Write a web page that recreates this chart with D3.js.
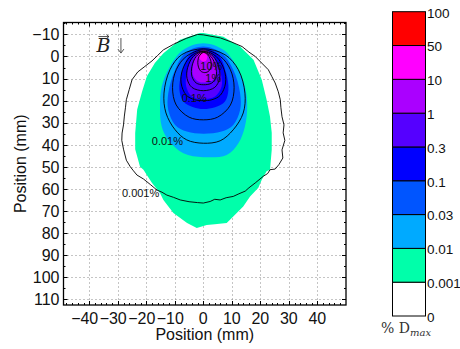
<!DOCTYPE html>
<html>
<head>
<meta charset="utf-8">
<script src="https://cdn.jsdelivr.net/npm/d3@7"></script>
<style>
  html, body { margin: 0; padding: 0; background: #fff; }
  svg { display: block; font-family: "Liberation Sans", Arial, sans-serif; }
</style>
</head>
<body>
<svg id="chart" width="460" height="349"></svg>
<script>
// ticks
const xTicks = [-40, -30, -20, -10, 0, 10, 20, 30, 40];
const yTicks = [-10, 0, 10, 20, 30, 40, 50, 60, 70, 80, 90, 100, 110];

// colour levels (% of Dmax), bottom to top of the colorbar
const levelLabels = ["0", "0.001", "0.01", "0.03", "0.1", "0.3", "1", "10", "50", "100"];
const bandColors = ["#ffffff", "#00ffaa", "#00aaff", "#0055ff", "#0000ff", "#5500ff", "#aa00ff", "#ff00ff", "#ff0000"];

// filled regions in mm (outermost first)
const fill001 = [[0,-10.6],[7,-9],[12.9,-4.5],[17.6,1.5],[20.5,10.5],[22.2,19.6],[23.4,27.3],[24,34.6],[24,42.3],[23.4,51.3],[22.2,52],[20.5,55.9],[19.3,59.5],[16.4,63.4],[14,68],[10.5,72.5],[8.2,75.5],[4,76],[1.2,76.3],[-2.3,77.7],[-5.7,75.5],[-10.5,70.9],[-14,65],[-15.2,61.8],[-18,57.3],[-21,51.3],[-22.2,50],[-23.9,42],[-23.9,34.7],[-23.2,24],[-21.5,16],[-19.8,9],[-17,3],[-14,-1.5],[-8.2,-7.6],[-1.2,-10.6]];
const fill01 = [[0,-6],[7,-3],[11.7,4.5],[14.6,13.6],[15.4,22.7],[14.6,31.7],[12.3,39.3],[8.2,44.6],[0,45.6],[-7,43.8],[-12.3,37.8],[-14.6,31.7],[-15.2,22.7],[-14.6,13.6],[-11.7,4.5],[-7,-3]];
const fill03 = [[0,-4.5],[6.4,-1.5],[10.5,6],[12.9,16.6],[12.9,24.2],[10.5,31],[6.4,34],[0,35],[-5.8,34],[-9.9,31],[-12.3,24.2],[-12.3,16.6],[-9.9,6],[-6.4,-1.5]];
const fill1 = [[0,-3.8],[5.3,-0.8],[8,7.5],[8.8,15.1],[7.6,20.4],[4.1,23],[0,23.8],[-3.5,23],[-7,20.4],[-8.4,15.1],[-7.6,7.5],[-4.7,-0.8]];
const fill3 = [[0,-3.3],[3.7,0],[6.1,7.5],[6.4,13.6],[4.1,18.1],[0,19.3],[-4.1,18.1],[-6,13.6],[-5.8,7.5],[-3.5,0]];
const fill10 = [[0,-3],[1.8,-2.3],[3.7,0.8],[4.7,6],[3.5,10.5],[0.6,11.8],[-1.8,11.3],[-3.5,9],[-3.7,4.5],[-2.3,-0.8]];
const fill50 = [[0,-2.7],[1,-2.1],[1.4,-0.3],[1,1.8],[-0.2,2.3],[-1.4,0.8],[-1.2,-1.5]];

// contour lines in mm
const line001 = [[0,-9.8],[6,-8.4],[10,-6.5],[13.6,-4.5],[16,-2],[18.2,0],[20.5,3],[22.8,6],[24,9],[25.2,12],[26.3,16],[27,19.6],[27.2,23],[27.6,27.3],[28.3,31],[28,34.6],[28.6,38],[27.6,42.3],[27.9,46],[26.5,49],[25.2,51],[23.4,51.3],[22.6,53],[21,54.3],[18.2,57.3],[16,59.5],[14.7,61],[12.5,62.2],[10.5,63.4],[8,64],[5.9,65],[4,64.7],[2.4,65.7],[0,66.4],[-2,66.2],[-5,65.8],[-8.1,65],[-10.5,63.8],[-12.8,62.8],[-14.5,61.5],[-16.3,60.5],[-18.6,58],[-21,55.5],[-23.3,53.7],[-24.5,51.8],[-25.6,50],[-27,47],[-28,42],[-28.6,38],[-28.5,34.7],[-28,31],[-27.7,27],[-27.3,23],[-27,19.6],[-26,15],[-25,10.5],[-23,7],[-20.5,4.5],[-18,2],[-16,-0.5],[-14,-3],[-10.5,-5.5],[-6,-8.2],[-2,-10]];
const line01 = [[0,-3.5],[7.6,-0.8],[12.3,6],[14.6,16.6],[14,25.6],[10.5,33.2],[5.9,38.2],[0,39.3],[-5.8,37.8],[-9.9,33.2],[-13.1,25.6],[-13.8,16.6],[-11.7,6],[-7.6,-0.8]];
const line03 = [[0,-3],[6,0],[9.5,6],[10.8,14],[9.5,22],[5,27.5],[0,28.7],[-5,27.5],[-9.5,22],[-10.8,14],[-9.5,6],[-6,0]];
const line1 = [[0,-2.5],[4.5,0],[7.3,6],[7.8,12],[6,17.5],[3,19.6],[0,20],[-3,19.6],[-6,17.5],[-7.8,12],[-7.3,6],[-4.5,0]];
const line3 = [[0,-2.3],[3.5,0],[5.5,5],[5.7,10],[4,14],[0,15.5],[-4,14],[-5.7,10],[-5.5,5],[-3.5,0]];
const line10 = [[0,-2],[2.7,0],[4.3,4.5],[4.5,9],[3,12],[0,12.8],[-2.5,12],[-4,9],[-4,4.5],[-2.5,0]];
const line100 = [[0,-1.8],[1,-1.3],[2,0],[2.8,3.5],[2,6.5],[0.5,7.3],[-1,6.5],[-1.9,3.5],[-1.5,0]];

// contour labels: text, x, y (mm)
const contourLabels = [["0.001%", -22, 61.8], ["0.01%", -12.6, 38.4], ["0.1%", -3.2, 19], ["1%", 3.5, 10], ["10%", 2.8, 4.2]];

const svg = d3.select("#chart");
const x = d3.scaleLinear().domain([-49.05, 50.05]).range([63.5, 346]);
const y = d3.scaleLinear().domain([-15.4, 112.6]).range([22.5, 305]);

const g = svg.append("g");

// dotted grid behind everything
g.append("g").selectAll("line").data(xTicks).join("line")
  .attr("x1", d => Math.round(x(d)) + 0.5).attr("x2", d => Math.round(x(d)) + 0.5)
  .attr("y1", y.range()[0]).attr("y2", y.range()[1])
  .attr("stroke", "#8a8a8a").attr("stroke-dasharray", "1,3");
g.append("g").selectAll("line").data(yTicks).join("line")
  .attr("y1", d => Math.round(y(d)) + 0.5).attr("y2", d => Math.round(y(d)) + 0.5)
  .attr("x1", x.range()[0]).attr("x2", x.range()[1])
  .attr("stroke", "#8a8a8a").attr("stroke-dasharray", "1,3");

const smooth = d3.line().x(d => x(d[0])).y(d => y(d[1])).curve(d3.curveCatmullRomClosed);
const rough = d3.line().x(d => x(d[0])).y(d => y(d[1])).curve(d3.curveLinearClosed);

const fills = [fill001, fill01, fill03, fill1, fill3, fill10, fill50];
g.append("g").selectAll("path").data(fills).join("path")
  .attr("d", (d, i) => i === 0 ? rough(d) : smooth(d))
  .attr("fill", (d, i) => bandColors[i + 1]);

const lines = [line001, line01, line03, line1, line3, line10, line100];
g.append("g").selectAll("path").data(lines).join("path")
  .attr("d", (d, i) => i === 0 ? rough(d) : smooth(d))
  .attr("fill", "none").attr("stroke", "#000").attr("stroke-width", 0.9);

g.append("g").selectAll("text").data(contourLabels).join("text")
  .attr("x", d => x(d[1])).attr("y", d => y(d[2]))
  .attr("dy", "0.35em").attr("text-anchor", "middle")
  .attr("font-size", 11).attr("fill", "#111")
  .text(d => d[0]);

// B-field annotation
const bx = x(-37.5), by = y(-2);
g.append("text").attr("x", bx).attr("y", by)
  .attr("font-family", "'DejaVu Serif', 'Liberation Serif', serif")
  .attr("font-style", "italic").attr("font-size", 19).attr("fill", "#222").text("B");
g.append("path")
  .attr("d", `M${bx + 2},${by - 15.5}H${bx + 12.5}M${bx + 10},${by - 17.5}L${bx + 12.5},${by - 15.5}L${bx + 10},${by - 13.5}`)
  .attr("fill", "none").attr("stroke", "#222").attr("stroke-width", 0.8);
g.append("path")
  .attr("d", `M${bx + 24.5},${by - 14}V${by + 1}M${bx + 21.5},${by - 3}L${bx + 24.5},${by + 1}L${bx + 27.5},${by - 3}`)
  .attr("fill", "none").attr("stroke", "#555").attr("stroke-width", 1);

// axes box and ticks
const [x0, x1] = x.range(), [y0, y1] = y.range();
const ticks = g.append("g").attr("stroke", "#000").attr("stroke-width", 1);
const minorX = d3.range(-48, 50, 2).filter(v => v % 10 !== 0);
const minorY = d3.range(-15, 113, 5).filter(v => v % 10 !== 0);
xTicks.forEach(v => {
  const px = Math.round(x(v)) + 0.5;
  ticks.append("line").attr("x1", px).attr("x2", px).attr("y1", y1).attr("y2", y1 - 4);
  ticks.append("line").attr("x1", px).attr("x2", px).attr("y1", y0).attr("y2", y0 + 4);
});
minorX.forEach(v => {
  const px = Math.round(x(v)) + 0.5;
  ticks.append("line").attr("x1", px).attr("x2", px).attr("y1", y1).attr("y2", y1 - 2);
  ticks.append("line").attr("x1", px).attr("x2", px).attr("y1", y0).attr("y2", y0 + 2);
});
yTicks.forEach(v => {
  const py = Math.round(y(v)) + 0.5;
  ticks.append("line").attr("y1", py).attr("y2", py).attr("x1", x0).attr("x2", x0 + 4);
  ticks.append("line").attr("y1", py).attr("y2", py).attr("x1", x1).attr("x2", x1 - 4);
});
minorY.forEach(v => {
  const py = Math.round(y(v)) + 0.5;
  ticks.append("line").attr("y1", py).attr("y2", py).attr("x1", x0).attr("x2", x0 + 2);
  ticks.append("line").attr("y1", py).attr("y2", py).attr("x1", x1).attr("x2", x1 - 2);
});
g.append("rect").attr("x", x0).attr("y", y0).attr("width", x1 - x0).attr("height", y1 - y0)
  .attr("fill", "none").attr("stroke", "#000").attr("stroke-width", 1.3);

const fmt = v => v < 0 ? "\u2212" + Math.abs(v) : String(v);
g.append("g").selectAll("text").data(xTicks).join("text")
  .attr("x", d => x(d)).attr("y", y1 + 18.5)
  .attr("dx", d => d < 0 ? -4.6 : 0)
  .attr("text-anchor", "middle").attr("font-size", 16).attr("fill", "#111")
  .text(fmt);
g.append("g").selectAll("text").data(yTicks).join("text")
  .attr("x", x0 - 4).attr("y", d => y(d)).attr("dy", "0.36em")
  .attr("text-anchor", "end").attr("font-size", 16).attr("fill", "#111")
  .text(fmt);

svg.append("text").attr("x", (x0 + x1) / 2).attr("y", 339.5)
  .attr("text-anchor", "middle").attr("font-size", 16).attr("fill", "#111")
  .text("Position (mm)");
svg.append("text").attr("transform", `translate(26,${(y0 + y1) / 2}) rotate(-90)`)
  .attr("text-anchor", "middle").attr("font-size", 16).attr("fill", "#111")
  .text("Position (mm)");

// colorbar
const cb = svg.append("g");
const cy = d3.scaleLinear().domain([0, bandColors.length]).range([316, 11.7]);
const cbx = 392.5, cbw = 33;
cb.selectAll("rect").data(bandColors).join("rect")
  .attr("x", cbx).attr("y", (d, i) => cy(i + 1)).attr("width", cbw)
  .attr("height", (d, i) => cy(i) - cy(i + 1))
  .attr("fill", d => d).attr("stroke", "#000").attr("stroke-width", 1);
cb.selectAll("text").data(levelLabels).join("text")
  .attr("x", cbx + cbw + 1.5).attr("y", (d, i) => cy(i) + 1).attr("dy", "0.36em")
  .attr("font-size", 13.5).attr("fill", "#111")
  .text(d => d);
const unit = cb.append("text").attr("x", 381).attr("y", 333)
  .attr("font-family", "'DejaVu Serif', 'Liberation Serif', serif").attr("font-size", 14).attr("fill", "#333");
unit.append("tspan").text("% D");
unit.append("tspan").attr("dy", 3).attr("font-size", 10).attr("font-style", "italic").text("max");
</script>
</body>
</html>
